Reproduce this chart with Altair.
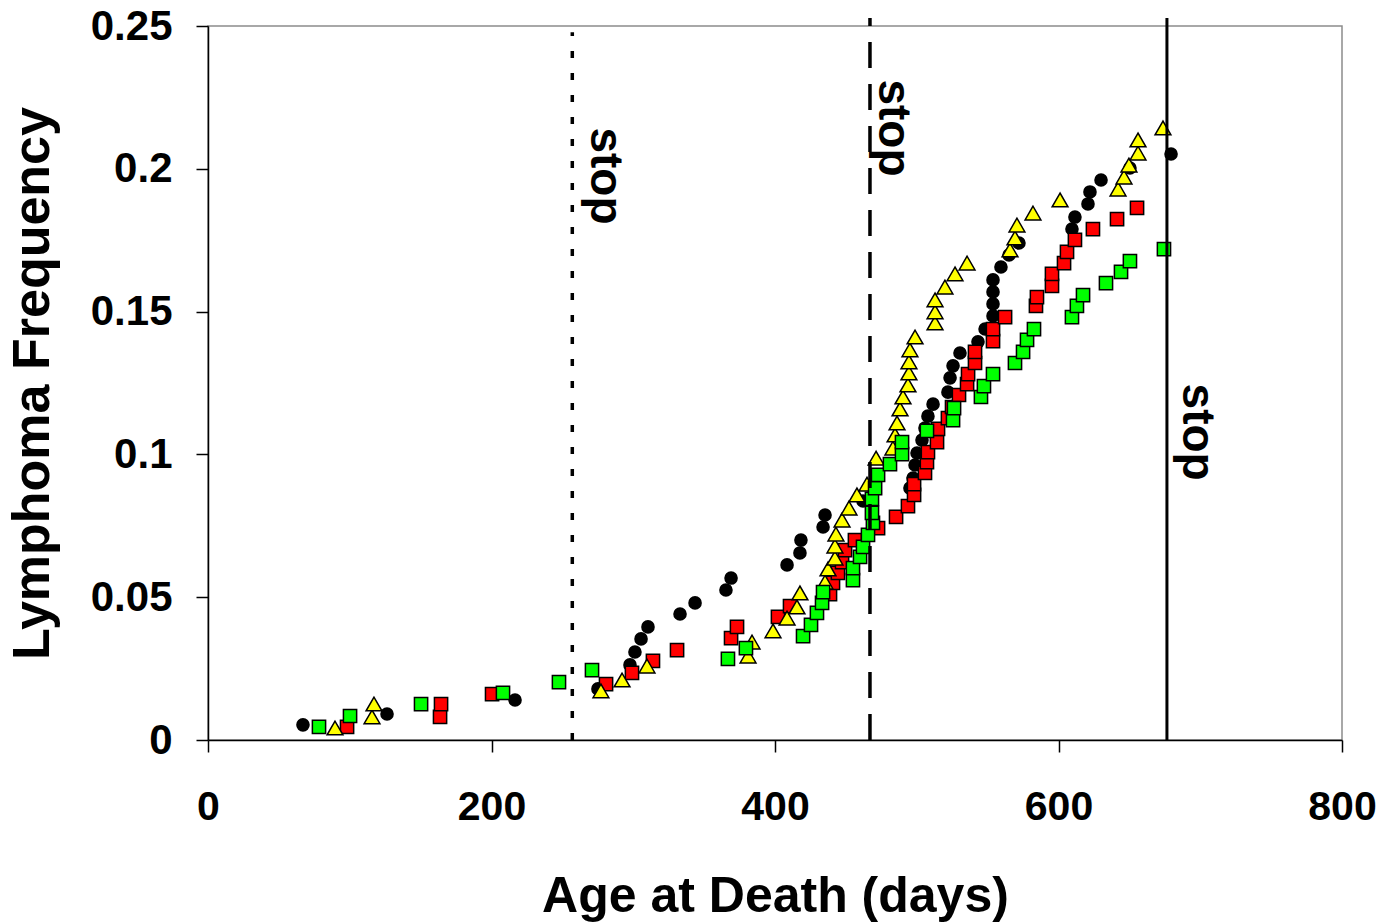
import altair as alt
import pandas as pd

# ---- data ----
black_x = [67.0, 126.3, 216.6, 275.1, 297.7, 301.2, 305.5, 310.4, 333.0, 343.6, 365.4, 369.0,
           408.5, 417.6, 418.3, 433.9, 435.3, 462.1, 495.2, 497.4, 498.8, 500.2, 503.7, 505.8,
           507.9, 511.5, 522.0, 523.5, 525.6, 530.5, 543.2, 548.2, 553.8, 553.8, 553.8, 553.8,
           559.4, 565.1, 572.1, 609.5, 611.6, 620.8, 622.2, 630.0, 650.4, 679.4]
black_y = [0.0053, 0.0091, 0.0140, 0.0179, 0.0263, 0.0308, 0.0354, 0.0396, 0.0441, 0.0480, 0.0525, 0.0567,
           0.0613, 0.0655, 0.0700, 0.0746, 0.0788, 0.0837, 0.0882, 0.0917, 0.0963, 0.1005, 0.1050, 0.1092,
           0.1134, 0.1176, 0.1218, 0.1268, 0.1310, 0.1355, 0.1394, 0.1439, 0.1485, 0.1527, 0.1569, 0.1611,
           0.1656, 0.1698, 0.1740, 0.1789, 0.1831, 0.1877, 0.1919, 0.1961, 0.2003, 0.2052]

red_x = [98.1, 163.7, 164.4, 200.4, 280.8, 299.1, 313.9, 330.9, 369.0, 373.2, 402.1, 410.6,
         438.8, 440.9, 444.4, 447.3, 449.4, 456.4, 472.7, 485.4, 493.8, 498.1, 498.1, 505.8,
         507.2, 507.9, 514.3, 515.0, 522.0, 524.9, 529.8, 535.5, 536.2, 541.1, 541.1, 553.8,
         553.8, 562.3, 584.1, 584.8, 595.4, 595.4, 603.9, 606.0, 611.6, 624.3, 641.3, 655.4]
red_y = [0.0046, 0.0081, 0.0126, 0.0161, 0.0196, 0.0235, 0.0277, 0.0315, 0.0357, 0.0396, 0.0431, 0.0469,
         0.0511, 0.0550, 0.0585, 0.0623, 0.0665, 0.0700, 0.0742, 0.0781, 0.0819, 0.0858, 0.0896, 0.0935,
         0.0973, 0.1008, 0.1043, 0.1089, 0.1127, 0.1166, 0.1208, 0.1246, 0.1281, 0.1320, 0.1359, 0.1397,
         0.1439, 0.1481, 0.1520, 0.1551, 0.1590, 0.1632, 0.1670, 0.1709, 0.1751, 0.1789, 0.1824, 0.1863]

green_x = [78.3, 100.2, 150.3, 208.1, 247.6, 270.9, 366.8, 379.5, 419.8, 425.4, 429.6, 433.2,
           433.9, 455.0, 455.0, 460.0, 462.1, 465.6, 469.1, 468.4, 468.4, 470.6, 472.7, 481.1,
           489.6, 489.6, 507.2, 525.6, 526.3, 545.3, 547.4, 553.8, 569.3, 575.0, 577.8, 582.7,
           609.5, 613.0, 617.3, 633.5, 644.1, 650.4, 674.4]
green_y = [0.0046, 0.0084, 0.0126, 0.0165, 0.0203, 0.0245, 0.0284, 0.0322, 0.0364, 0.0403, 0.0445, 0.0480,
           0.0518, 0.0560, 0.0602, 0.0641, 0.0676, 0.0718, 0.0760, 0.0795, 0.0844, 0.0882, 0.0928, 0.0966,
           0.1001, 0.1043, 0.1082, 0.1120, 0.1162, 0.1201, 0.1239, 0.1281, 0.1320, 0.1359, 0.1401, 0.1439,
           0.1481, 0.1520, 0.1558, 0.1600, 0.1639, 0.1677, 0.1719]

yellow_x = [89.6, 115.7, 117.1, 277.2, 292.1, 309.7, 381.0, 383.8, 398.6, 408.5, 415.5, 417.6,
            435.3, 437.4, 442.3, 442.3, 443.0, 447.3, 452.2, 457.8, 464.9, 471.3, 483.2, 484.7,
            486.1, 488.2, 490.3, 493.8, 494.5, 494.5, 495.2, 498.8, 512.9, 512.9, 512.9, 519.9,
            527.0, 535.5, 565.8, 569.3, 570.7, 582.0, 601.1, 642.0, 646.2, 649.7, 656.1, 656.1, 673.7]
yellow_y = [0.0042, 0.0081, 0.0126, 0.0172, 0.0210, 0.0259, 0.0294, 0.0343, 0.0382, 0.0427, 0.0466, 0.0515,
            0.0553, 0.0599, 0.0637, 0.0679, 0.0721, 0.0770, 0.0812, 0.0858, 0.0896, 0.0987, 0.1022, 0.1068,
            0.1110, 0.1159, 0.1201, 0.1243, 0.1285, 0.1324, 0.1366, 0.1411, 0.1460, 0.1499, 0.1541, 0.1586,
            0.1632, 0.1670, 0.1716, 0.1758, 0.1803, 0.1845, 0.1891, 0.1929, 0.1971, 0.2013, 0.2055, 0.2101, 0.2143]

stop_line_x = [257, 467, 676.5]
stop_line_top = [0.2478, 0.2528, 0.2528]
stop_line_style = ["dotted", "dashed", "solid"]

stop_label_x = [280, 483, 698]
stop_label_y = [0.1975, 0.2143, 0.1078]
stop_label_text = ["stop", "stop", "stop"]

x_ticks = [0, 200, 400, 600, 800]
y_ticks = [0, 0.05, 0.1, 0.15, 0.2, 0.25]

FONT = "Liberation Sans"

def frame(xs, ys):
    return pd.DataFrame({"age": xs, "freq": ys})

xscale = alt.Scale(domain=[0, 800], nice=False, zero=False)
yscale = alt.Scale(domain=[0, 0.25], nice=False, zero=False)

xaxis = alt.Axis(values=x_ticks, title="Age at Death (days)", grid=False,
                 labelFont=FONT, labelFontSize=41, labelFontWeight="bold", labelColor="black",
                 labelPadding=35, tickSize=12, tickColor="black", tickWidth=1.5,
                 labelFlush=False, labelOverlap=False, labelBound=False,
                 domainColor="black", domainWidth=1.5,
                 titleFont=FONT, titleFontSize=50, titleFontWeight="bold", titleColor="black",
                 titlePadding=44)
yaxis = alt.Axis(values=y_ticks, title="Lymphoma Frequency", grid=False, format="~g",
                 labelFont=FONT, labelFontSize=42, labelFontWeight="bold", labelColor="black",
                 labelPadding=24, tickSize=12, tickColor="black", tickWidth=1.5,
                 labelFlush=False, labelOverlap=False, labelBound=False,
                 domainColor="black", domainWidth=1.5,
                 titleFont=FONT, titleFontSize=52, titleFontWeight="bold", titleColor="black",
                 titlePadding=31)

X = alt.X("age:Q", scale=xscale, axis=xaxis)
Y = alt.Y("freq:Q", scale=yscale, axis=yaxis)
Xn = alt.X("age:Q", scale=xscale)
Yn = alt.Y("freq:Q", scale=yscale)

black = alt.Chart(frame(black_x, black_y)).mark_point(
    shape="circle", filled=True, color="black", size=185, opacity=1
).encode(x=X, y=Y)

red = alt.Chart(frame(red_x, red_y)).mark_point(
    shape="square", filled=True, fill="#FF0000", stroke="black", strokeWidth=1.5, size=175, opacity=1
).encode(x=Xn, y=Yn)

yellow = alt.Chart(frame(yellow_x, yellow_y)).mark_point(
    shape="triangle-up", filled=True, fill="#FFFF00", stroke="black", strokeWidth=1.5, size=250, opacity=1
).encode(x=Xn, y=Yn)

green = alt.Chart(frame(green_x, green_y)).mark_point(
    shape="square", filled=True, fill="#00FF00", stroke="black", strokeWidth=1.5, size=175, opacity=1
).encode(x=Xn, y=Yn)

lines_df = pd.DataFrame({"age": stop_line_x, "top": stop_line_top, "style": stop_line_style,
                         "bottom": [0, 0, 0]})
dash_map = {"dotted": [7, 15], "dashed": [26, 16], "solid": [1, 0]}
rules = []
for i, st in enumerate(stop_line_style):
    r = alt.Chart(lines_df.iloc[[i]]).mark_rule(
        color="black", strokeWidth=3.5 if st != "solid" else 3,
        strokeDash=dash_map[st]
    ).encode(x=Xn, y=alt.Y("bottom:Q", scale=yscale), y2="top:Q")
    rules.append(r)

labels = alt.Chart(pd.DataFrame({"age": stop_label_x, "freq": stop_label_y, "t": stop_label_text})).mark_text(
    angle=90, font=FONT, fontWeight="bold", fontSize=46, color="black", align="center", baseline="middle"
).encode(x=Xn, y=Yn, text="t:N")

chart = alt.layer(black, red, yellow, green, *rules, labels).properties(
    width=1134, height=714,
    autosize=alt.AutoSizeParams(type="none"),
    padding={"left": 208, "top": 26, "right": 39, "bottom": 184},
    background="white",
).configure_view(stroke="#8c8c8c", strokeWidth=1.5)

chart.save("out.html", embed_options={"renderer": "svg", "actions": False})
